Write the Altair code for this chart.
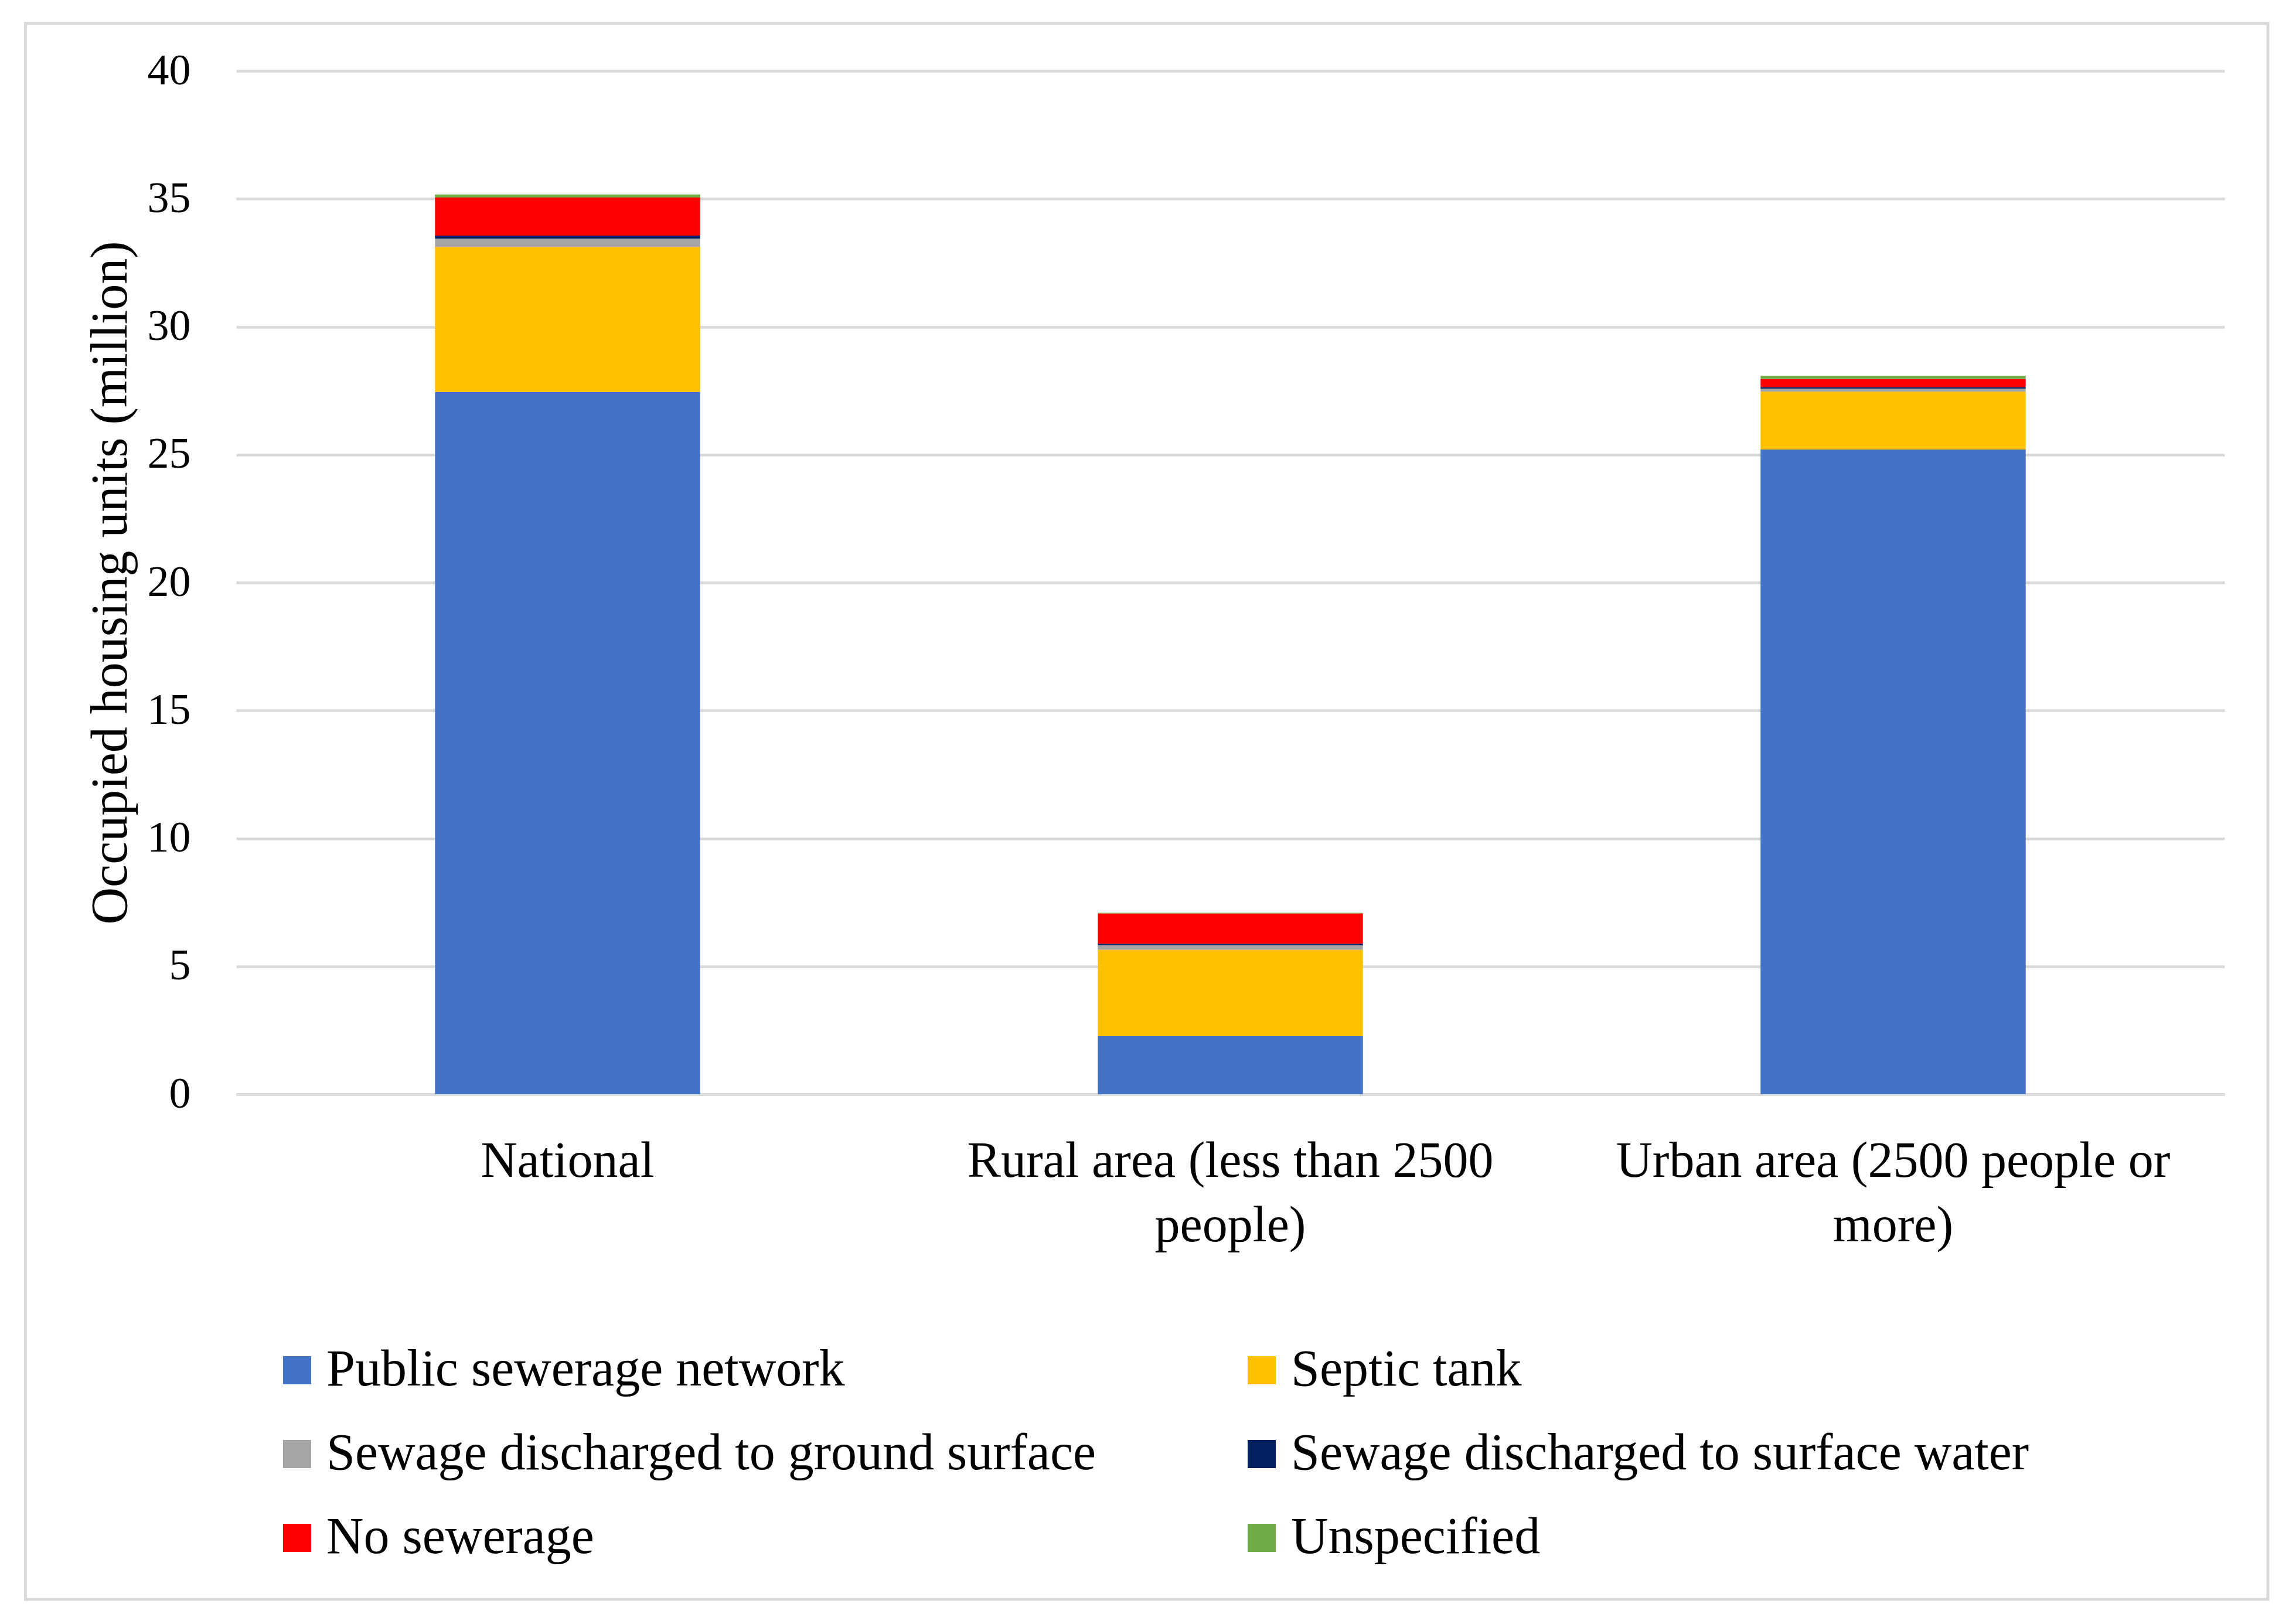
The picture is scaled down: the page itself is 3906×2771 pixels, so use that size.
import json
import altair as alt
import pandas as pd

categories = ["National", "Rural area (less than 2500 people)", "Urban area (2500 people or more)"]
label_lines = [["National"], ["Rural area (less than 2500", "people)"], ["Urban area (2500 people or", "more)"]]

series = [
    "Public sewerage network",
    "Septic tank",
    "Sewage discharged to ground surface",
    "Sewage discharged to surface water",
    "No sewerage",
    "Unspecified",
]
colors = ["#4472C4", "#FFC000", "#A5A5A5", "#002060", "#FF0000", "#70AD47"]

public_sewer = [27.45, 2.27, 25.20]
septic_tank = [5.68, 3.38, 2.26]
ground_surface = [0.31, 0.17, 0.12]
surface_water = [0.12, 0.06, 0.06]
no_sewerage = [1.49, 1.19, 0.32]
unspecified = [0.12, 0.02, 0.12]

values = [public_sewer, septic_tank, ground_surface, surface_water, no_sewerage, unspecified]
y_ticks = [0, 5, 10, 15, 20, 25, 30, 35, 40]

rows = []
for si, (name, vals) in enumerate(zip(series, values)):
    for cat, v in zip(categories, vals):
        rows.append({"category": cat, "series": name, "value": v, "idx": si})
df = pd.DataFrame(rows)

expr = "datum.label"
for cat, lines in reversed(list(zip(categories, label_lines))):
    expr = f"datum.value == {json.dumps(cat)} ? {json.dumps(lines)} : ({expr})"

GRID = "#d9d9d9"

bars = alt.Chart(df).mark_bar().encode(
    x=alt.X(
        "category:N",
        sort=categories,
        title=None,
        scale=alt.Scale(paddingInner=0.6, paddingOuter=0.3),
        axis=alt.Axis(
            labelAngle=0,
            labelExpr=expr,
            labelFontSize=86,
            labelLineHeight=110,
            labelPadding=72,
            labelBaseline="top",
            ticks=False,
            tickSize=0,
            domain=True,
            domainColor=GRID,
            domainWidth=4.5,
            labelColor="#000000",
            labelLimit=3000,
        ),
    ),
    y=alt.Y(
        "value:Q",
        stack="zero",
        title="Occupied housing units (million)",
        scale=alt.Scale(domain=[0, 40], nice=False),
        axis=alt.Axis(
            values=y_ticks,
            labelFontSize=74,
            labelPadding=78,
            ticks=False,
            tickSize=0,
            domain=False,
            grid=True,
            gridColor=GRID,
            gridWidth=4.5,
            titleFontSize=88,
            titleFontWeight="normal",
            titlePadding=18,
            titleColor="#000000",
            labelColor="#000000",
        ),
    ),
    color=alt.Color(
        "series:N",
        sort=series,
        scale=alt.Scale(domain=series, range=colors),
        legend=alt.Legend(
            title=None,
            orient="none",
            direction="horizontal",
            legendX=60,
            legendY=2173,
            columns=2,
            columnPadding=238,
            rowPadding=55,
            symbolType="square",
            symbolSize=2304,
            symbolStrokeWidth=0,
            labelFontSize=88,
            labelOffset=6,
            labelLimit=3000,
            labelColor="#000000",
            padding=0,
        ),
    ),
    order=alt.Order("idx:Q", sort="ascending"),
)

frame = alt.Chart(pd.DataFrame({"a": [0]})).mark_rect(
    filled=False, stroke=GRID, strokeWidth=5
).encode(
    x=alt.value(-359.5), x2=alt.value(3467), y=alt.value(-81), y2=alt.value(2608)
)

chart = alt.layer(frame, bars).properties(
    width=3393,
    height=1746,
    padding={"left": 33, "top": 29, "right": 20, "bottom": 20},
).configure(
    font="Liberation Serif",
).configure_view(
    stroke=None
)

chart.save("out.html", embed_options={"renderer": "svg", "actions": False})
